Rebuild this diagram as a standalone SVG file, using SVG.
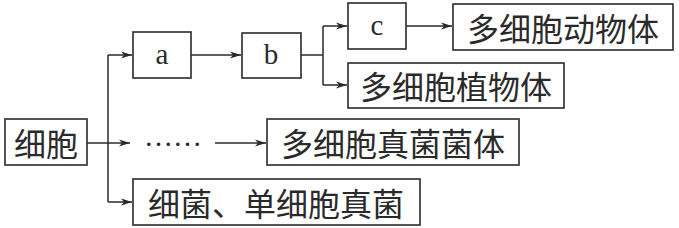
<svg xmlns="http://www.w3.org/2000/svg" width="679" height="228" viewBox="0 0 679 228">
<style>
.box{fill:#fff;stroke:#2a2a2a;stroke-width:1.6}
.zh{font-family:"Noto Sans CJK SC","Liberation Sans",sans-serif;font-size:32px;fill:#2a2a2a;text-anchor:middle;dominant-baseline:central}
.en{font-family:"Liberation Serif",serif;font-size:29px;fill:#2a2a2a;text-anchor:middle;dominant-baseline:central}
.ln{fill:none;stroke:#2a2a2a;stroke-width:1.5}
</style>
<defs>
<marker id="ah" markerWidth="12" markerHeight="8" refX="11" refY="4" orient="auto" markerUnits="userSpaceOnUse">
<path d="M0,0.5 L11,4 L0,7.5 L3,4 Z" fill="#2a2a2a"/>
</marker>
</defs>
<rect width="679" height="228" fill="#fff"/>
<g id="connectors">
<path class="ln" d="M87,143 H108"/>
<path class="ln" d="M108,55 V202"/>
<path class="ln" d="M108,55 H132" marker-end="url(#ah)"/>
<path class="ln" d="M108,143 H130" marker-end="url(#ah)"/>
<path class="ln" d="M108,202 H132" marker-end="url(#ah)"/>
<path class="ln" d="M215,143 H266" marker-end="url(#ah)"/>
<path class="ln" d="M191,55 H241" marker-end="url(#ah)"/>
<path class="ln" d="M301,55 H323"/>
<path class="ln" d="M323,26 V85"/>
<path class="ln" d="M323,26 H347" marker-end="url(#ah)"/>
<path class="ln" d="M323,85 H347" marker-end="url(#ah)"/>
<path class="ln" d="M406,26 H452" marker-end="url(#ah)"/>
<text x="173" y="146" style="font-family:'Liberation Serif',serif;font-size:29px;fill:#2a2a2a;text-anchor:middle">……</text>
</g>
<g id="cell">
<rect class="box" x="5" y="119" width="82" height="46"/>
<text class="zh" x="46" y="142">细胞</text>
</g>
<g id="a">
<rect class="box" x="133" y="32" width="58" height="46"/>
<text class="en" x="162" y="54">a</text>
</g>
<g id="b">
<rect class="box" x="242" y="33" width="59" height="45"/>
<text class="en" x="271" y="54">b</text>
</g>
<g id="c">
<rect class="box" x="348" y="3" width="58" height="46"/>
<text class="en" x="377" y="25">c</text>
</g>
<g id="animal">
<rect class="box" x="453" y="4" width="220" height="46"/>
<text class="zh" x="563" y="27">多细胞动物体</text>
</g>
<g id="plant">
<rect class="box" x="348" y="63" width="216" height="45"/>
<text class="zh" x="456" y="85">多细胞植物体</text>
</g>
<g id="fungus">
<rect class="box" x="267" y="119" width="252" height="46"/>
<text class="zh" x="393" y="142">多细胞真菌菌体</text>
</g>
<g id="bacteria">
<rect class="box" x="133" y="179" width="287" height="46"/>
<text class="zh" x="276" y="202">细菌、单细胞真菌</text>
</g>
</svg>
